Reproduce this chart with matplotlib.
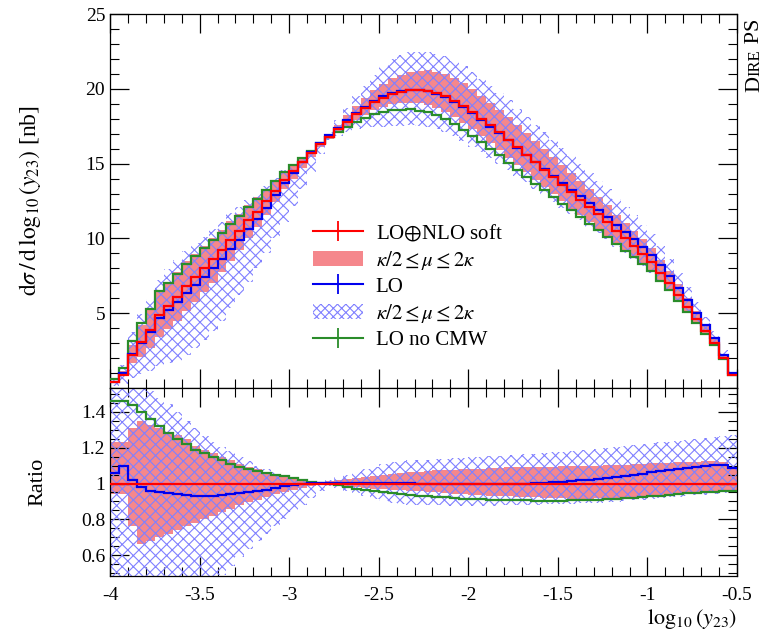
import numpy as np
import matplotlib.pyplot as plt
from matplotlib.lines import Line2D
from matplotlib.patches import Patch
from matplotlib.ticker import MultipleLocator, FixedLocator, FuncFormatter

plt.rcParams['font.family'] = ['Liberation Serif', 'DejaVu Serif']
plt.rcParams['mathtext.fontset'] = 'stix'
plt.rcParams['axes.unicode_minus'] = False
plt.rcParams['hatch.linewidth'] = 0.8

# bin edges in log10(y23), 0.05 wide
edges = np.round(np.arange(-4.0, -0.5 + 1e-9, 0.05), 3)

# LO+NLO soft, central value [nb]
nlo_soft = [0.4, 0.9, 2.2, 3.1, 3.9, 4.9, 5.5, 6.1, 6.8, 7.4,
            8.0, 8.6, 9.2, 9.9, 10.5, 11.2, 11.8, 12.5, 13.2, 13.9,
            14.5, 15.1, 15.7, 16.3, 16.8, 17.3, 17.8, 18.3, 18.7, 19.1,
            19.4, 19.65, 19.8, 19.9, 19.9, 19.85, 19.7, 19.5, 19.2, 18.85,
            18.45, 18.0, 17.55, 17.1, 16.6, 16.1, 15.6, 15.1, 14.6, 14.1,
            13.6, 13.1, 12.6, 12.1, 11.6, 11.1, 10.5, 10.0, 9.5, 8.95,
            8.4, 7.7, 7.0, 6.2, 5.4, 4.6, 3.8, 3.0, 2.0, 0.9]

# ratios to LO+NLO soft
lo_ratio = [1.06, 1.10, 1.02, 0.98, 0.96, 0.95, 0.945, 0.94, 0.935, 0.93,
            0.93, 0.93, 0.935, 0.94, 0.945, 0.95, 0.957, 0.965, 0.975, 0.985,
            0.993, 1.0, 1.003, 1.005, 1.005, 1.005, 1.005, 1.005, 1.005, 1.005,
            1.005, 1.004, 1.003, 1.002, 1.0, 1.0, 0.998, 0.997, 0.996, 0.995,
            0.995, 0.995, 0.995, 0.996, 0.997, 0.998, 1.0, 1.002, 1.004, 1.006,
            1.009, 1.013, 1.017, 1.022, 1.027, 1.032, 1.038, 1.044, 1.05, 1.056,
            1.062, 1.068, 1.074, 1.08, 1.087, 1.094, 1.1, 1.105, 1.105, 1.085]

nocmw_ratio = [1.46, 1.46, 1.44, 1.40, 1.36, 1.32, 1.28, 1.25, 1.22, 1.19,
               1.17, 1.15, 1.13, 1.11, 1.095, 1.08, 1.07, 1.06, 1.05, 1.04,
               1.03, 1.02, 1.01, 1.005, 0.998, 0.99, 0.98, 0.972, 0.965, 0.958,
               0.952, 0.946, 0.94, 0.936, 0.932, 0.928, 0.925, 0.922, 0.919, 0.916,
               0.914, 0.912, 0.91, 0.909, 0.908, 0.907, 0.906, 0.905, 0.905, 0.905,
               0.905, 0.906, 0.907, 0.908, 0.91, 0.912, 0.915, 0.918, 0.921, 0.925,
               0.929, 0.933, 0.937, 0.941, 0.945, 0.949, 0.952, 0.955, 0.958, 0.96]

nlo_band_lo = [0.94, 0.94, 0.76, 0.66, 0.68, 0.70, 0.72, 0.74, 0.76, 0.78,
               0.80, 0.82, 0.84, 0.86, 0.88, 0.895, 0.91, 0.925, 0.94, 0.955,
               0.965, 0.975, 0.985, 0.99, 0.992, 0.988, 0.984, 0.98, 0.976, 0.972,
               0.968, 0.965, 0.962, 0.959, 0.956, 0.953, 0.95, 0.947, 0.944, 0.941,
               0.938, 0.935, 0.932, 0.93, 0.928, 0.926, 0.924, 0.922, 0.92, 0.918,
               0.917, 0.916, 0.916, 0.916, 0.917, 0.918, 0.92, 0.922, 0.925, 0.928,
               0.932, 0.936, 0.94, 0.943, 0.946, 0.948, 0.95, 0.951, 0.952, 0.953]
nlo_band_hi = [1.23, 1.23, 1.31, 1.35, 1.33, 1.31, 1.29, 1.27, 1.25, 1.21,
               1.19, 1.17, 1.15, 1.13, 1.11, 1.095, 1.08, 1.065, 1.05, 1.04,
               1.03, 1.02, 1.013, 1.01, 1.012, 1.018, 1.024, 1.03, 1.036, 1.042,
               1.048, 1.053, 1.058, 1.062, 1.066, 1.07, 1.073, 1.076, 1.078, 1.08,
               1.082, 1.084, 1.086, 1.088, 1.09, 1.091, 1.092, 1.093, 1.094, 1.095,
               1.096, 1.097, 1.098, 1.099, 1.1, 1.102, 1.104, 1.106, 1.108, 1.11,
               1.112, 1.114, 1.116, 1.118, 1.12, 1.122, 1.124, 1.125, 1.12, 1.1]

lo_band_lo = [0.3, 0.3, 0.3, 0.3, 0.3, 0.3, 0.3, 0.3, 0.32, 0.36,
              0.40, 0.44, 0.49, 0.54, 0.59, 0.635, 0.68, 0.72, 0.76, 0.80,
              0.84, 0.88, 0.92, 0.96, 0.985, 0.975, 0.96, 0.945, 0.93, 0.915,
              0.90, 0.89, 0.885, 0.882, 0.88, 0.878, 0.878, 0.877, 0.876, 0.875,
              0.875, 0.875, 0.876, 0.877, 0.878, 0.88, 0.881, 0.882, 0.883, 0.884,
              0.885, 0.887, 0.889, 0.891, 0.893, 0.896, 0.899, 0.902, 0.906, 0.91,
              0.914, 0.918, 0.922, 0.926, 0.93, 0.934, 0.938, 0.942, 0.946, 0.95]
lo_band_hi = [1.7, 1.7, 1.7, 1.6, 1.52, 1.48, 1.445, 1.40, 1.35, 1.31,
              1.265, 1.235, 1.205, 1.18, 1.15, 1.125, 1.10, 1.08, 1.065, 1.05,
              1.035, 1.02, 1.01, 1.01, 1.02, 1.035, 1.05, 1.065, 1.08, 1.095,
              1.11, 1.12, 1.125, 1.13, 1.13, 1.13, 1.135, 1.138, 1.14, 1.143,
              1.146, 1.149, 1.152, 1.155, 1.158, 1.16, 1.163, 1.166, 1.17, 1.174,
              1.178, 1.182, 1.186, 1.19, 1.195, 1.2, 1.205, 1.21, 1.215, 1.22,
              1.225, 1.23, 1.235, 1.24, 1.245, 1.25, 1.255, 1.26, 1.265, 1.27]

labels = ['LO$\\oplus$NLO soft', '$\\kappa/2 \\leq \\mu \\leq 2\\kappa$', 'LO',
          '$\\kappa/2 \\leq \\mu \\leq 2\\kappa$', 'LO no CMW']

red = '#ff0000'
blue = '#0000ee'
green = '#2a8c2a'
pink = '#f5878c'
hatch_col = '#8080ff'

ref = np.array(nlo_soft)
ones = np.ones_like(ref)

fig = plt.figure(figsize=(7.71, 6.38), dpi=100)
ax = fig.add_axes([0.1427, 0.3918, 0.8132, 0.5862])
rx = fig.add_axes([0.1427, 0.0972, 0.8132, 0.2946], sharex=ax)

for a, base in ((ax, ref), (rx, ones)):
    a.stairs(base * np.array(nlo_band_hi), edges, baseline=base * np.array(nlo_band_lo),
             fill=True, facecolor=pink, lw=0, zorder=1)
    a.stairs(base * np.array(lo_band_hi), edges, baseline=base * np.array(lo_band_lo),
             fill=True, facecolor='none', edgecolor=hatch_col, hatch='xxx', lw=0, zorder=2)
    a.stairs(base * np.array(nocmw_ratio), edges, baseline=None, color=green, lw=1.6, zorder=3)
    a.stairs(base * np.array(lo_ratio), edges, baseline=None, color=blue, lw=1.6, zorder=4)
    a.stairs(base * ones, edges, baseline=None, color=red, lw=1.6, zorder=5)

ax.set_xlim(-4, -0.5)
ax.set_ylim(0, 25)
rx.set_ylim(0.483, 1.534)

for a in (ax, rx):
    a.tick_params(which='both', direction='in', top=True, right=True, labelsize=14)
    a.tick_params(which='major', length=14, width=0.9)
    a.tick_params(which='minor', length=6.5, width=0.8)
    a.xaxis.set_major_locator(MultipleLocator(0.5))
    a.xaxis.set_minor_locator(MultipleLocator(0.1))
    for s in a.spines.values():
        s.set_linewidth(0.9)

ax.yaxis.set_major_locator(FixedLocator([5, 10, 15, 20, 25]))
ax.yaxis.set_minor_locator(MultipleLocator(1))
ax.tick_params(axis='x', labelbottom=False)
rx.yaxis.set_major_locator(MultipleLocator(0.2))
rx.yaxis.set_minor_locator(MultipleLocator(0.05))
fmt = FuncFormatter(lambda v, p: '%g' % round(v, 2))
rx.yaxis.set_major_formatter(fmt)
rx.xaxis.set_major_formatter(fmt)
rx.tick_params(axis='x', pad=8)

ax.set_ylabel(r'$\mathrm{d}\sigma\,/\,\mathrm{d}\,\log_{10}(y_{23})$ [nb]', fontsize=17)
ax.yaxis.set_label_coords(-0.107, 0.5)
rx.set_ylabel('Ratio', fontsize=16)
rx.yaxis.set_label_coords(-0.1, 0.5)
rx.set_xlabel(r'$\log_{10}(y_{23})$', fontsize=16, loc='right', labelpad=2)

handles = [Line2D([], [], color=red, lw=1.5, marker='|', markersize=14, mew=1.3),
           Patch(facecolor=pink, edgecolor='none'),
           Line2D([], [], color=blue, lw=1.5, marker='|', markersize=14, mew=1.3),
           Patch(facecolor='none', edgecolor=hatch_col, hatch='xxxx', lw=0),
           Line2D([], [], color=green, lw=1.5, marker='|', markersize=14, mew=1.3)]
ax.legend(handles, labels, loc='upper left', bbox_to_anchor=(0.311, 0.465),
          frameon=False, fontsize=15, handlelength=2.4, handleheight=0.75,
          labelspacing=0.25, handletextpad=0.6, borderaxespad=0)

# "Dire PS" in small caps, written vertically
renderer = fig.canvas.get_renderer()
y = 1 - 92 / 638
for s, size in (('D', 16), ('IRE', 12), (' PS', 16)):
    t = fig.text(0.985, y, s, fontsize=size, rotation=90, rotation_mode='anchor',
                 ha='left', va='baseline')
    y += t.get_window_extent(renderer).height / fig.bbox.height

fig.savefig('out.png', dpi=100)
